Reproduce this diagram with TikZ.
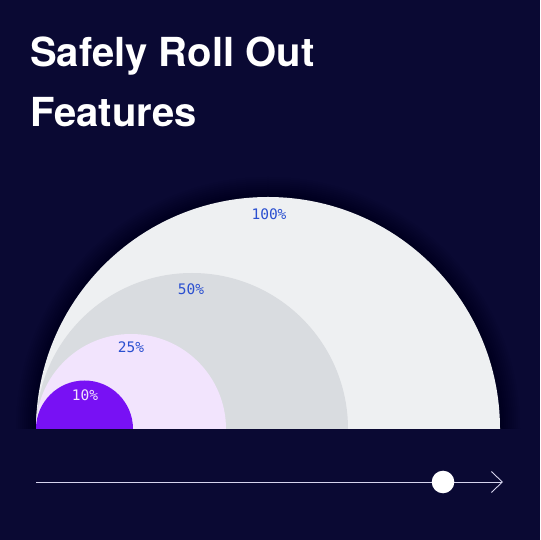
\documentclass[tikz,border=0pt]{standalone}
\usepackage{fontspec}
\setmainfont{TeX Gyre Heros}
\newfontfamily\labelmono{DejaVu Sans Mono}
\usetikzlibrary{arrows.meta}
\definecolor{navy}{HTML}{0A0933}
\definecolor{fullgray}{HTML}{EEF0F2}
\definecolor{halfgray}{HTML}{D9DCE0}
\definecolor{quarterlilac}{HTML}{F2E4FD}
\definecolor{tenpurple}{HTML}{7811F4}
\definecolor{pctblue}{HTML}{2A4FD0}
\definecolor{tracklilac}{HTML}{D6D4EE}

\begin{document}
\begin{tikzpicture}
[
    x=1pt, y=1pt,
    pct/.style={font=\labelmono\fontsize{14.5}{14.5}\selectfont, text=pctblue, inner sep=0pt},
    heading/.style={font=\bfseries\fontsize{40}{60}\selectfont, text=white, align=left, inner sep=0pt},
    dome/.style={draw=none},
]
\fill[navy] (0,0) rectangle (540,540);
\useasboundingbox (0,0) rectangle (540,540);

\node [heading, anchor=base west] (title) at (30,413) {Safely Roll Out\\Features};

% soft shade round the big dome
\foreach \r in {2,4,...,20}
    \fill[black, opacity=0.03] (268-232-\r,111) arc[start angle=180, end angle=0, radius=232+\r] -- cycle;

\fill[dome, fullgray] (36,111) arc[start angle=180, end angle=0, radius=232] -- cycle;
\fill[dome, halfgray] (36,111) arc[start angle=180, end angle=0, radius=156] -- cycle;
\fill[dome, quarterlilac] (36,111) arc[start angle=180, end angle=0, radius=95] -- cycle;
\fill[dome, tenpurple] (36,111) arc[start angle=180, end angle=0, radius=48.5] -- cycle;

\node [pct] (full) at (269,326) {100\%};
\node [pct] (half) at (191,251) {50\%};
\node [pct] (quarter) at (131,193) {25\%};
\node [pct, text=quarterlilac] (tenth) at (85,145) {10\%};

\coordinate (start) at (36,58);
\coordinate (finish) at (503,58);
\draw[tracklilac, line width=0.9pt, -{Straight Barb[length=11pt, width=21pt, line width=0.9pt]}] (start) -- (finish);
\node [circle, fill=white, minimum size=22.6pt, inner sep=0pt] (knob) at (443,58) {};
\end{tikzpicture}
\end{document}
